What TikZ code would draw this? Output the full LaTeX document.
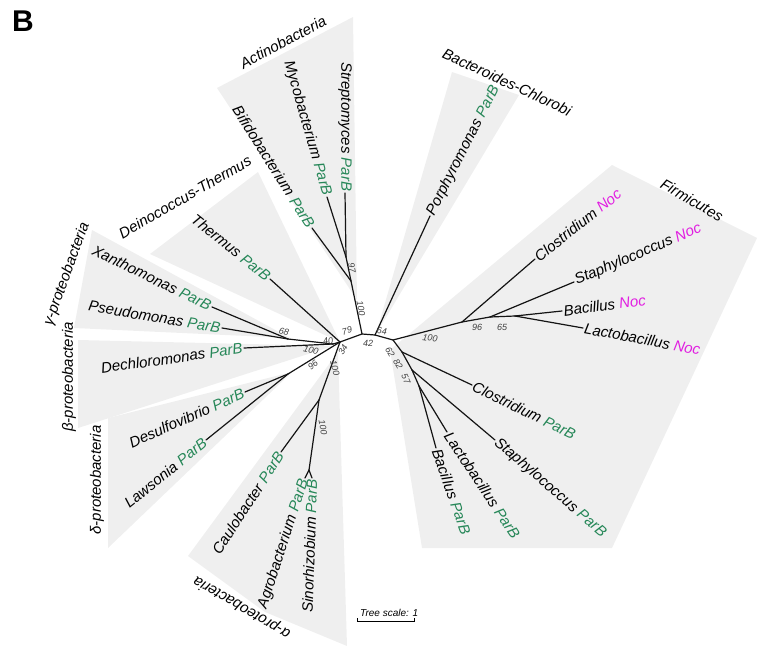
\documentclass[tikz,border=0pt]{standalone}
\usepackage{fontspec}
\setmainfont{Liberation Sans}
\usetikzlibrary{positioning}
\definecolor{cladegray}{RGB}{239,239,239}
\definecolor{parbgreen}{RGB}{38,135,88}
\definecolor{nocpink}{RGB}{225,30,225}
\definecolor{treeline}{RGB}{20,20,20}
\newcommand{\parB}{\textcolor{parbgreen}{ParB}}
\newcommand{\noc}{\textcolor{nocpink}{Noc}}

\begin{document}
\begin{tikzpicture}[
    x=1pt, y=-1pt,
    clade/.style={fill=cladegray, draw=none},
    branch/.style={draw=treeline, line width=1.2pt, line cap=round},
    leaf/.style={font=\fontsize{15}{16}\selectfont\itshape, inner sep=1.5pt},
    taxon/.style={font=\fontsize{15}{16}\selectfont\itshape, inner sep=0pt},
    boot/.style={font=\fontsize{9}{10}\selectfont\itshape, text=black!75, inner sep=0pt}
]
\useasboundingbox (0,0) rectangle (757,652);

% Panel letter
\node[font=\fontsize{30}{32}\selectfont\bfseries, anchor=base west, inner sep=0pt] (panel) at (12,32) {B};

% Shaded clades
\fill[clade] (357,300) -- (217,88) -- (353,17) -- cycle;
\fill[clade] (376,334) -- (452,72) -- (519,95) -- cycle;
\fill[clade] (390,350) -- (612,165) -- (757,238) -- (612,548) -- (422,548) -- cycle;
\fill[clade] (340,342) -- (150,254) -- (258,172) -- cycle;
\fill[clade] (290,338) -- (92,230) -- (74,328) -- cycle;
\fill[clade] (333,346) -- (78,340) -- (78,428) -- cycle;
\fill[clade] (292,372) -- (108,418) -- (108,548) -- cycle;
\fill[clade] (338,352) -- (188,556) -- (265,612) -- (347,646) -- cycle;

% Inner nodes of the tree
\coordinate (c1) at (340,342);
\coordinate (c2) at (362,334);
\coordinate (c3) at (375,335);
\coordinate (c4) at (393,340);
\coordinate (act) at (351,281);
\coordinate (actms) at (346,257);
\coordinate (gam) at (288,339);
\coordinate (betgam) at (333,344);
\coordinate (del) at (288,374);
\coordinate (alp) at (319,400);
\coordinate (alpas) at (309,470);
\coordinate (noc1) at (462,322);
\coordinate (noc2) at (490,317);
\coordinate (noc3) at (515,316);
\coordinate (par1) at (402,352);
\coordinate (par2) at (412,370);
\coordinate (par3) at (419,386);

% Leaves
\coordinate (strep) at (345,193);
\coordinate (myco) at (327,197);
\coordinate (bifido) at (312,228);
\coordinate (porph) at (430,216);
\coordinate (therm) at (270,279);
\coordinate (xanth) at (212,307);
\coordinate (pseudo) at (222,328);
\coordinate (dechl) at (244,348);
\coordinate (desulf) at (245,392);
\coordinate (laws) at (206,440);
\coordinate (caulo) at (281,452);
\coordinate (agro) at (305,478);
\coordinate (sino) at (312,478);
\coordinate (closnoc) at (535,259);
\coordinate (staphnoc) at (574,282);
\coordinate (bacnoc) at (562,311);
\coordinate (lactnoc) at (583,328);
\coordinate (clospar) at (472,385);
\coordinate (staphpar) at (495,440);
\coordinate (lactpar) at (447,432);
\coordinate (bacpar) at (436,448);

% Branches
\draw[branch] (c1) -- (c2) -- (c3) -- (c4);
\draw[branch] (c2) -- (act);
\draw[branch] (act) -- (actms);
\draw[branch] (actms) -- (strep);
\draw[branch] (actms) -- (myco);
\draw[branch] (act) -- (bifido);
\draw[branch] (c3) -- (porph);
\draw[branch] (c1) -- (therm);
\draw[branch] (c1) -- (betgam);
\draw[branch] (betgam) -- (gam);
\draw[branch] (gam) -- (xanth);
\draw[branch] (gam) -- (pseudo);
\draw[branch] (betgam) -- (dechl);
\draw[branch] (c1) -- (del);
\draw[branch] (del) -- (desulf);
\draw[branch] (del) -- (laws);
\draw[branch] (c1) -- (alp);
\draw[branch] (alp) -- (caulo);
\draw[branch] (alp) -- (alpas);
\draw[branch] (alpas) -- (agro);
\draw[branch] (alpas) -- (sino);
\draw[branch] (c4) -- (noc1);
\draw[branch] (noc1) -- (closnoc);
\draw[branch] (noc1) -- (noc2);
\draw[branch] (noc2) -- (staphnoc);
\draw[branch] (noc2) -- (noc3);
\draw[branch] (noc3) -- (bacnoc);
\draw[branch] (noc3) -- (lactnoc);
\draw[branch] (c4) -- (par1);
\draw[branch] (par1) -- (clospar);
\draw[branch] (par1) -- (par2);
\draw[branch] (par2) -- (staphpar);
\draw[branch] (par2) -- (par3);
\draw[branch] (par3) -- (lactpar);
\draw[branch] (par3) -- (bacpar);

% Leaf labels
\node[leaf, rotate=-90, anchor=east] (l-strep) at (strep) {Streptomyces \parB};
\node[leaf, rotate=-74, anchor=east] (l-myco) at (myco) {Mycobacterium \parB};
\node[leaf, rotate=-58, anchor=east] (l-bifido) at (bifido) {Bifidobacterium \parB};
\node[leaf, rotate=63, anchor=west] (l-porph) at (porph) {Porphyromonas \parB};
\node[leaf, rotate=-39, anchor=east] (l-therm) at (therm) {Thermus \parB};
\node[leaf, rotate=-26, anchor=east] (l-xanth) at (xanth) {Xanthomonas \parB};
\node[leaf, rotate=-9.5, anchor=east] (l-pseudo) at (pseudo) {Pseudomonas \parB};
\node[leaf, rotate=8, anchor=east] (l-dechl) at (dechl) {Dechloromonas \parB};
\node[leaf, rotate=24, anchor=east] (l-desulf) at (desulf) {Desulfovibrio \parB};
\node[leaf, rotate=39, anchor=east] (l-laws) at (laws) {Lawsonia \parB};
\node[leaf, rotate=57, anchor=east] (l-caulo) at (caulo) {Caulobacter \parB};
\node[leaf, rotate=72, anchor=east] (l-agro) at (agro) {Agrobacterium \parB};
\node[leaf, rotate=88, anchor=east] (l-sino) at (sino) {Sinorhizobium \parB};
\node[leaf, rotate=38.5, anchor=west] (l-closnoc) at (closnoc) {Clostridium \noc};
\node[leaf, rotate=23, anchor=west] (l-staphnoc) at (staphnoc) {Staphylococcus \noc};
\node[leaf, rotate=7.5, anchor=west] (l-bacnoc) at (bacnoc) {Bacillus \noc};
\node[leaf, rotate=-10.5, anchor=west] (l-lactnoc) at (lactnoc) {Lactobacillus \noc};
\node[leaf, rotate=-26, anchor=west] (l-clospar) at (clospar) {Clostridium \parB};
\node[leaf, rotate=-41, anchor=west] (l-staphpar) at (staphpar) {Staphylococcus \parB};
\node[leaf, rotate=-56.5, anchor=west] (l-lactpar) at (lactpar) {Lactobacillus \parB};
\node[leaf, rotate=-70.5, anchor=west] (l-bacpar) at (bacpar) {Bacillus \parB};

% Clade names
\node[taxon, rotate=28] (n-actino) at (283,42) {Actinobacteria};
\node[taxon, rotate=-25] (n-bacter) at (507,82) {Bacteroides-Chlorobi};
\node[taxon, rotate=-30] (n-firmi) at (692,200) {Firmicutes};
\node[taxon, rotate=30] (n-deino) at (185,197) {Deinococcus-Thermus};
\node[taxon, rotate=70] (n-gamma) at (67,274) {γ-proteobacteria};
\node[taxon, rotate=90] (n-beta) at (69,377) {β-proteobacteria};
\node[taxon, rotate=90] (n-delta) at (97,480) {δ-proteobacteria};
\node[taxon, rotate=150] (n-alpha) at (242,607) {α-proteobacteria};

% Bootstrap values
\node[boot, rotate=-80] (b-ms) at (352,268) {97};
\node[boot, rotate=-80] (b-act) at (361,308) {100};
\node[boot, rotate=15] (b-c2) at (347,331) {79};
\node[boot, rotate=-5] (b-c3) at (382,331) {64};
\node[boot] (b-c4) at (368,343) {42};
\node[boot, rotate=10] (b-bg) at (328,341) {40};
\node[boot, rotate=60] (b-c1) at (343,350) {34};
\node[boot, rotate=-15] (b-dechl) at (311,350) {100};
\node[boot, rotate=-15] (b-gam) at (284,332) {68};
\node[boot, rotate=40] (b-del) at (313,365) {96};
\node[boot, rotate=-75] (b-alp) at (335,368) {100};
\node[boot, rotate=-80] (b-alpas) at (323,427) {100};
\node[boot, rotate=-60] (b-par1) at (390,352) {62};
\node[boot, rotate=-60] (b-par2) at (398,364) {82};
\node[boot, rotate=-65] (b-par3) at (406,379) {57};
\node[boot, rotate=-8] (b-noc1) at (430,338) {100};
\node[boot] (b-noc2) at (477,327) {96};
\node[boot] (b-noc3) at (502,327) {65};

% Tree scale
\coordinate (sc-a) at (357,621);
\coordinate (sc-b) at (414,621);
\draw[line width=1pt] ([yshift=3pt]sc-a) -- (sc-a) -- (sc-b) -- ([yshift=3pt]sc-b);
\node[font=\fontsize{10}{11}\selectfont\itshape, anchor=base west, inner sep=0pt] (sc-txt) at (360,616) {Tree scale: 1};

\end{tikzpicture}
\end{document}
